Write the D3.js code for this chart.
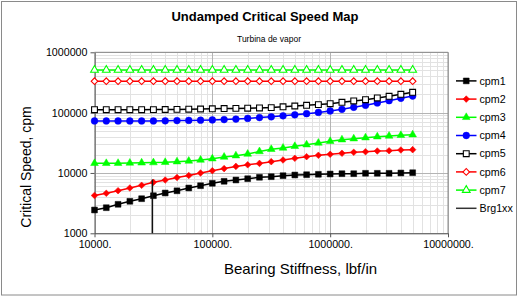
<!DOCTYPE html>
<html>
<head>
<meta charset="utf-8">
<script src="https://cdn.jsdelivr.net/npm/d3@7"></script>
<style>
  html, body { margin: 0; padding: 0; background: #fff; }
  svg { display: block; font-family: "Liberation Sans", Arial, sans-serif; }
</style>
</head>
<body>
<svg id="chart" width="521" height="297"></svg>
<script>
// ---------- DATA ----------
const stiffness = [10000, 12589, 15849, 19953, 25119, 31623, 39811, 50119, 63096, 79433,
  100000, 125893, 158489, 199526, 251189, 316228, 398107, 501187, 630957, 794328,
  1000000, 1258925, 1584893, 1995262, 2511886, 3162278, 3981072, 5011872];

const cpm1 = [2433, 2657, 3024, 3392, 3746, 4200, 4656, 5064, 5634, 6152,
  6743, 7276, 7645, 8035, 8477, 8674, 9011, 9255, 9362, 9506,
  9614, 9726, 9726, 9875, 9875, 9875, 9990, 10100];
const cpm2 = [4233, 4603, 5083, 5634, 6246, 7003, 7645, 8413, 9080, 9990,
  10900, 11810, 12850, 13660, 14410, 15380, 16410, 17510, 18610, 19630,
  20390, 21190, 22010, 22520, 23130, 23390, 24030, 24310];
const cpm3 = [14460, 14460, 14520, 14630, 14740, 14860, 15030, 15380, 15790, 16410,
  17240, 18400, 19330, 20630, 22690, 24690, 25940, 27680, 29420, 31390,
  33500, 35610, 36980, 38420, 39920, 41010, 42110, 43090];
const cpm4 = [72700, 72700, 72700, 72700, 72700, 72700, 73200, 73800, 74400, 74900,
  75800, 76700, 78100, 80300, 82800, 85300, 88600, 92100, 96000, 100900,
  106500, 113600, 122600, 132300, 144500, 157800, 172900, 188700];
const cpm5 = [111900, 111900, 111900, 111900, 111900, 112200, 112700, 113200, 114000, 114900,
  115800, 116700, 117600, 118500, 119400, 121200, 125000, 128800, 132300, 135900,
  140700, 148400, 156000, 163900, 174900, 186600, 201400, 217300];
const cpm6 = [332000, 332000, 332000, 332000, 332000, 332000, 332000, 332000, 332000, 332000,
  332000, 332000, 332000, 332000, 332000, 332000, 332000, 332000, 332000, 332000,
  332000, 332000, 332000, 332000, 332000, 332000, 332000, 332000];
const cpm7 = [509000, 509000, 509000, 509000, 509000, 509000, 509000, 509000, 509000, 509000,
  509000, 509000, 509000, 509000, 509000, 509000, 509000, 509000, 509000, 509000,
  509000, 509000, 509000, 509000, 509000, 509000, 509000, 509000];

const brgX = [31000, 31000];
const brgY = [1000, 7800];

const seriesNames = ["cpm1", "cpm2", "cpm3", "cpm4", "cpm5", "cpm6", "cpm7"];
const xTickValues = [10000, 100000, 1000000, 10000000];
const xTickLabels = ["10000.", "100000.", "1000000.", "10000000."];
const yTickValues = [1000, 10000, 100000, 1000000];
const yTickLabels = ["1000", "10000", "100000", "1000000"];

const titleText = "Undamped Critical Speed Map";
const subtitleText = "Turbina de vapor";
const xTitle = "Bearing Stiffness, lbf/in";
const yTitle = "Critical Speed, cpm";
const brgName = "Brg1xx";

// ---------- STYLES ----------
const styles = [
  { color: "#000000", shape: "square",   fill: true },
  { color: "#ff0000", shape: "diamond",  fill: true },
  { color: "#00ff00", shape: "triangle", fill: true },
  { color: "#0000ff", shape: "circle",   fill: true },
  { color: "#000000", shape: "square",   fill: false },
  { color: "#ff0000", shape: "diamond",  fill: false },
  { color: "#00ff00", shape: "triangle", fill: false }
];
const seriesData = [cpm1, cpm2, cpm3, cpm4, cpm5, cpm6, cpm7];

const svg = d3.select("#chart");
const W = 521, H = 297;
const plot = { left: 94.5, right: 448, top: 52.3, bottom: 233.3 };

// outer border
svg.append("rect").attr("x", 1.5).attr("y", 1.5).attr("width", 515).attr("height", 293.5)
  .attr("fill", "#fff").attr("stroke", "#8a8a8a").attr("stroke-width", 1);

const x = d3.scaleLog().domain([1e4, 1e7]).range([plot.left, plot.right]);
const y = d3.scaleLog().domain([1e3, 1e6]).range([plot.bottom, plot.top]);

// gridlines
const isMajor = v => Math.abs(Math.log10(v) - Math.round(Math.log10(v))) < 1e-9;
const xAll = x.ticks(), yAll = y.ticks();
const grid = svg.append("g");
grid.selectAll(".gxm").data(xAll.filter(v => !isMajor(v))).join("line")
  .attr("x1", d => Math.round(x(d)) + 0.5).attr("x2", d => Math.round(x(d)) + 0.5)
  .attr("y1", plot.top).attr("y2", plot.bottom)
  .attr("stroke", "#e2e2e2").attr("stroke-width", 1);
grid.selectAll(".gym").data(yAll.filter(v => !isMajor(v))).join("line")
  .attr("y1", d => Math.round(y(d)) + 0.5).attr("y2", d => Math.round(y(d)) + 0.5)
  .attr("x1", plot.left).attr("x2", plot.right)
  .attr("stroke", "#e2e2e2").attr("stroke-width", 1);
grid.selectAll(".gxM").data(xAll.filter(v => isMajor(v))).join("line")
  .attr("x1", d => Math.round(x(d)) + 0.5).attr("x2", d => Math.round(x(d)) + 0.5)
  .attr("y1", plot.top).attr("y2", plot.bottom)
  .attr("stroke", "#b4b4b4").attr("stroke-width", 1);
grid.selectAll(".gyM").data(yAll.filter(v => isMajor(v))).join("line")
  .attr("y1", d => Math.round(y(d)) + 0.5).attr("y2", d => Math.round(y(d)) + 0.5)
  .attr("x1", plot.left).attr("x2", plot.right)
  .attr("stroke", "#b4b4b4").attr("stroke-width", 1);

// plot frame (top / right)
svg.append("path")
  .attr("d", `M${plot.left},${plot.top}H${plot.right}V${plot.bottom}`)
  .attr("fill", "none").attr("stroke", "#8c8c8c").attr("stroke-width", 1);

// axes
const xAxis = d3.axisBottom(x).tickValues(xTickValues)
  .tickFormat((d, i) => xTickLabels[i]).tickSize(4).tickSizeOuter(0).tickPadding(3);
const yAxis = d3.axisLeft(y).tickValues(yTickValues)
  .tickFormat((d, i) => yTickLabels[i]).tickSize(4).tickSizeOuter(0).tickPadding(3);

const gx = svg.append("g").attr("transform", `translate(0,${plot.bottom})`).call(xAxis);
const gy = svg.append("g").attr("transform", `translate(${plot.left},0)`).call(yAxis);
[gx, gy].forEach(g => {
  g.select(".domain").attr("stroke", "#555");
  g.selectAll(".tick line").attr("stroke", "#555");
  g.selectAll("text").attr("fill", "#000").style("font-size", "10.7px")
    .style("font-family", '"Liberation Sans", Arial, sans-serif');
});

// symbol helper
function symPath(shape) {
  if (shape === "square") return d3.symbol().type(d3.symbolSquare).size(34)();
  if (shape === "circle") return d3.symbol().type(d3.symbolCircle).size(36)();
  if (shape === "triangle") return d3.symbol().type(d3.symbolTriangle).size(26)();
  if (shape === "diamond") return d3.symbol().type(d3.symbolSquare).size(22)();
}
function symTransform(shape, px, py) {
  return shape === "diamond" ? `translate(${px},${py}) rotate(45)` : `translate(${px},${py})`;
}

const line = d3.line().x(d => x(d[0])).y(d => y(d[1]));

// series
seriesData.forEach((vals, si) => {
  const st = styles[si];
  const pts = stiffness.map((s, i) => [s, vals[i]]);
  const g = svg.append("g");
  g.append("path").datum(pts).attr("d", line)
    .attr("fill", "none").attr("stroke", st.color).attr("stroke-width", 1.5);
  g.selectAll("path.m").data(pts).join("path").attr("class", "m")
    .attr("d", symPath(st.shape))
    .attr("transform", d => symTransform(st.shape, x(d[0]), y(d[1])))
    .attr("fill", st.fill ? st.color : "#fff")
    .attr("stroke", st.color).attr("stroke-width", st.fill ? 0.5 : 1.1);
});

// Brg1xx vertical line
svg.append("path").datum(brgX.map((v, i) => [v, brgY[i]])).attr("d", line)
  .attr("fill", "none").attr("stroke", "#111").attr("stroke-width", 1.5);

// legend
const legend = svg.append("g");
const legY0 = 80.9, legDy = 18.2, lx1 = 456, lx2 = 476.5, ltx = 479.5;
seriesNames.forEach((name, i) => {
  const st = styles[i];
  const yy = legY0 + i * legDy;
  legend.append("line").attr("x1", lx1).attr("x2", lx2).attr("y1", yy).attr("y2", yy)
    .attr("stroke", st.color).attr("stroke-width", 1.5);
  legend.append("path").attr("d", symPath(st.shape))
    .attr("transform", symTransform(st.shape, (lx1 + lx2) / 2, yy))
    .attr("fill", st.fill ? st.color : "#fff")
    .attr("stroke", st.color).attr("stroke-width", st.fill ? 0.5 : 1.1);
  legend.append("text").attr("x", ltx).attr("y", yy).attr("dy", "0.35em")
    .style("font-size", "10.7px").text(name);
});
{
  const yy = legY0 + 7 * legDy;
  legend.append("line").attr("x1", lx1).attr("x2", lx2).attr("y1", yy).attr("y2", yy)
    .attr("stroke", "#333").attr("stroke-width", 1.5);
  legend.append("text").attr("x", ltx).attr("y", yy).attr("dy", "0.35em")
    .style("font-size", "10.7px").text(brgName);
}

// titles
svg.append("text").attr("x", 265).attr("y", 21).attr("text-anchor", "middle")
  .style("font-size", "13px").style("font-weight", "bold").text(titleText);
svg.append("text").attr("x", 269).attr("y", 42).attr("text-anchor", "middle")
  .style("font-size", "8.5px").text(subtitleText);
svg.append("text").attr("x", 300.5).attr("y", 274).attr("text-anchor", "middle")
  .style("font-size", "15px").text(xTitle);
svg.append("text").attr("transform", "translate(31,167) rotate(-90)").attr("text-anchor", "middle")
  .style("font-size", "14px").text(yTitle);
</script>
</body>
</html>
